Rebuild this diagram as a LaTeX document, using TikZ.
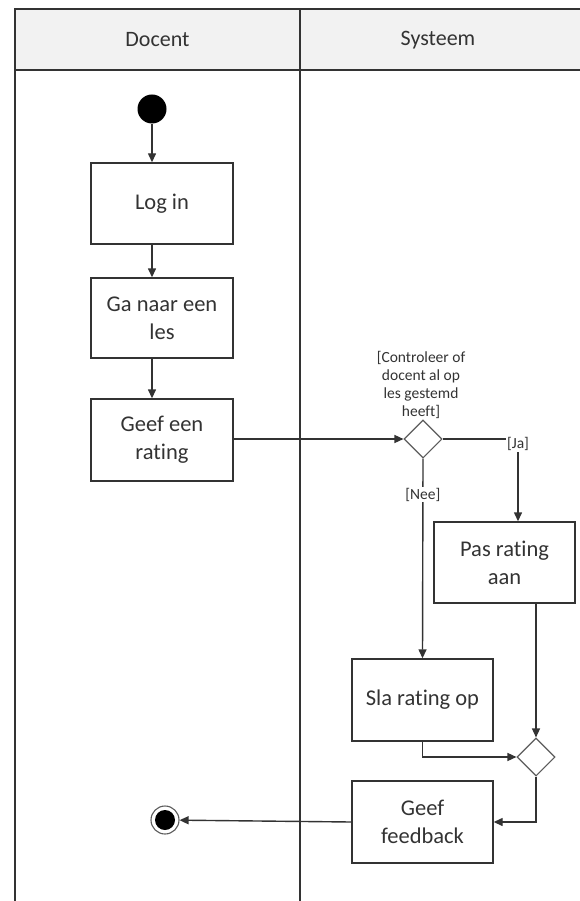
\documentclass[tikz,border=0pt]{standalone}
\usepackage{fontspec}
\setmainfont[Ligatures=NoCommon]{Carlito}
\usetikzlibrary{shapes.geometric,arrows.meta,calc}
\definecolor{ln}{HTML}{333333}
\definecolor{hdr}{HTML}{F2F2F2}
\begin{document}
\begin{tikzpicture}[x=1pt,y=-1pt,
  every node/.style={text=ln},
  act/.style={draw=ln, line width=1.4pt, minimum width=142pt, align=center, font=\fontsize{22.5}{28}\selectfont, inner sep=0pt},
  dec/.style={diamond, draw=ln!80, line width=1.1pt, minimum width=38pt, minimum height=38pt, inner sep=0pt},
  flow/.style={draw=ln, line width=1.4pt, -{Triangle[length=9pt,width=8pt]}},
  guard/.style={font=\fontsize{15.5}{18}\selectfont, fill=white, inner sep=1pt, align=center},
  lane/.style={draw=ln, line width=2pt}]
\useasboundingbox (0,0) rectangle (580,901);
% swimlanes
\fill[hdr] (15,9) rectangle (580,70);
\draw[lane] (580,9) -- (15,9) -- (15,901);
\draw[lane] (15,70) -- (580,70);
\draw[lane] (300,9) -- (300,901);
\node[font=\fontsize{22}{27}\selectfont] (hdoc) at (157.5,40) {Docent};
\node[font=\fontsize{22}{27}\selectfont] (hsys) at (438,40) {Systeem};
% nodes
\node[circle, fill=black, minimum size=29pt, inner sep=0pt] (start) at (152,109) {};
\node[act, minimum height=81pt] (login) at (162,203.5) {Log in};
\node[act, minimum height=80pt] (ganaar) at (162,318) {Ga naar een\\les};
\node[act, minimum height=82pt] (geef) at (162,440) {Geef een\\rating};
\node[dec] (d1) at (423,439) {};
\node[font=\fontsize{15.5}{18}\selectfont, align=center, anchor=south] (cond) at (421,422) {[Controleer of\\docent al op\\les gestemd\\heeft]};
\node[act, minimum height=81pt, minimum width=141pt] (pas) at (504.5,562.5) {Pas rating\\aan};
\node[act, minimum height=82pt, minimum width=141pt] (sla) at (422.5,700) {Sla rating op};
\node[dec] (d2) at (536,757) {};
\node[act, minimum height=82pt, minimum width=141pt] (fb) at (422.5,822) {Geef\\feedback};
\node[circle, draw=ln!80, line width=1.1pt, minimum size=28pt, inner sep=0pt] (end) at (165,820) {};
\node[circle, fill=black, minimum size=20pt, inner sep=0pt] (endin) at (end) {};
% connectors
\draw[flow] (start) -- (login.north -| start);
\draw[flow] (login.south -| start) -- (ganaar.north -| start);
\draw[flow] (ganaar.south -| start) -- (geef.north -| start);
\draw[flow] (geef.east |- d1) -- (d1.west);
\draw[flow] (d1.east) -| (pas.north -| 518,0) node[guard, pos=0.5, yshift=-5pt] (ja) {[Ja]};
\draw[flow] (d1.south) -- (sla.north) node[guard, pos=0.18] (nee) {[Nee]};
\draw[flow] (sla.south) |- (d2.west);
\draw[flow] (pas.south -| d2) -- (d2.north);
\draw[flow] (d2.south) |- (fb.east);
\draw[flow] (fb.west) -- (end);
\end{tikzpicture}
\end{document}
